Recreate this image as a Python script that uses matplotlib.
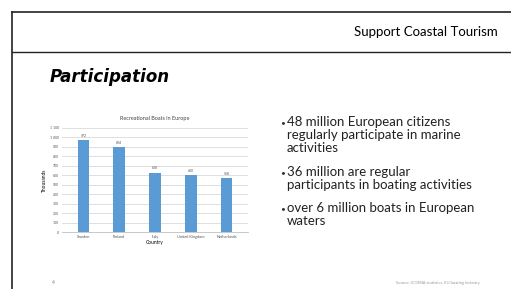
import matplotlib.pyplot as plt
from matplotlib.lines import Line2D

# data
countries = ['Sweden', 'Finland', 'Italy', 'United Kingdom', 'Netherlands']
boats = [972, 894, 628, 600, 568]
yticks = list(range(0, 1101, 100))
bullets = ['48 million European citizens\nregularly participate in marine\nactivities',
           '36 million are regular\nparticipants in boating activities',
           'over 6 million boats in European\nwaters']

plt.rcParams['font.family'] = ['Lato', 'DejaVu Sans']
fig = plt.figure(figsize=(5.11, 2.89), dpi=100)
W, H = 511, 289

def fx(x): return x / W
def fy(y): return 1 - y / H

# slide frame
fig.add_artist(Line2D([fx(12), fx(12)], [fy(12), 0], color='#222222', lw=1.2))
fig.add_artist(Line2D([fx(12), 1], [fy(12), fy(12)], color='#222222', lw=1.2))
fig.add_artist(Line2D([fx(12), 1], [fy(52), fy(52)], color='#222222', lw=1.0))
fig.text(fx(498), fy(32), 'Support Coastal Tourism', ha='right', va='center', fontsize=9.5)
fig.text(fx(50), fy(77), 'Participation', ha='left', va='center', fontsize=12,
         fontweight='bold', style='italic', family='DejaVu Sans')

# chart
ax = fig.add_axes([fx(62), fy(232), fx(248 - 62), (232 - 128) / H])
x = range(len(countries))
ax.bar(x, boats, width=0.33, color='#5B9BD5', zorder=3)
for i, v in zip(x, boats):
    ax.text(i, v + 25, str(v), ha='center', va='bottom', fontsize=2.5, color='#555555')
ax.set_ylim(0, 1100)
ax.set_xlim(-0.6, len(countries) - 0.4)
ax.set_yticks(yticks)
ax.set_yticklabels([f'{t:,}'.replace(',', ' ') for t in yticks], fontsize=2.5, color='#555555')
ax.set_xticks(list(x))
ax.set_xticklabels(countries, fontsize=2.8, color='#555555')
ax.tick_params(length=0, pad=2)
ax.grid(axis='y', color='#d9d9d9', lw=0.6, zorder=0)
for s in ['top', 'right', 'left']:
    ax.spines[s].set_visible(False)
ax.spines['bottom'].set_color('#bfbfbf')
ax.spines['bottom'].set_linewidth(0.6)
ax.set_title('Recreational Boats in Europe', fontsize=4, color='#444444', pad=6)
ax.set_xlabel('Country', fontsize=3.5, labelpad=1)
ax.set_ylabel('Thousands', fontsize=3.5, labelpad=2)

# bullet text
first_lines = [123, 173, 209]
for y, b in zip(first_lines, bullets):
    fig.text(fx(280), fy(y), '\u2022', ha='left', va='center', fontsize=6, color='#333333')
    fig.text(fx(287), fy(y - 7), b, ha='left', va='top', fontsize=9.5, color='#222222',
             linespacing=1.12)

# footer
fig.text(fx(52), fy(283), '4', ha='left', va='center', fontsize=3.5, color='#888888')
fig.text(fx(480), fy(283), 'Source: ICOMIA statistics, EU boating industry', ha='right',
         va='center', fontsize=3, color='#999999')

fig.savefig('out.png', dpi=100)
